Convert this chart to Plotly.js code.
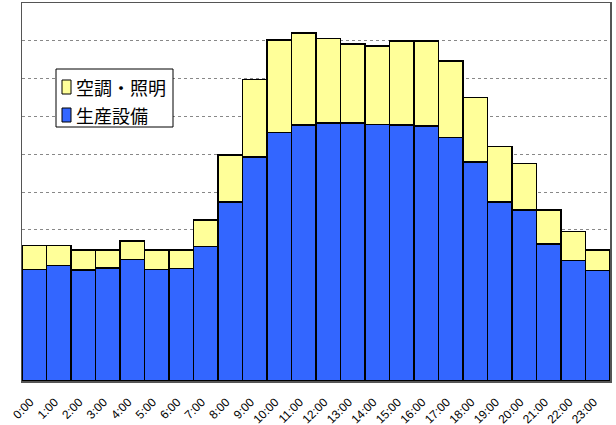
<!DOCTYPE html>
<html>
<head>
<meta charset="utf-8">
<script src="https://cdn.plot.ly/plotly-3.0.1.min.js"></script>
<style>html,body{margin:0;padding:0;background:#fff;}#chart{width:616px;height:425px;}</style>
</head>
<body>
<div id="chart"></div>
<script>
const hours = ["0:00","1:00","2:00","3:00","4:00","5:00","6:00","7:00","8:00","9:00","10:00","11:00",
               "12:00","13:00","14:00","15:00","16:00","17:00","18:00","19:00","20:00","21:00","22:00","23:00"];
const production = [2.95,3.05,2.94,2.99,3.22,2.95,2.97,3.56,4.74,5.93,6.58,6.77,
                    6.83,6.83,6.79,6.77,6.75,6.44,5.79,4.73,4.52,3.62,3.19,2.93];
const hvacLighting = [0.63,0.53,0.52,0.48,0.48,0.51,0.50,0.70,1.24,2.05,2.44,2.44,
                      2.23,2.08,2.07,2.22,2.24,2.03,1.71,1.48,1.23,0.91,0.76,0.53];
const seriesNames = ["生産設備","空調・照明"];
const seriesColors = ["#3366FF","#FFFF99"];

const traces = [
  {type:"bar", name:seriesNames[0], x:hours, y:production, showlegend:false,
   marker:{color:seriesColors[0], line:{color:"#000000", width:1.5}}},
  {type:"bar", name:seriesNames[1], x:hours, y:hvacLighting, showlegend:false,
   marker:{color:seriesColors[1], line:{color:"#000000", width:1.5}}}
];

// custom legend box (paper coordinates; plot area 588x378 px)
const W = 588, H = 378;
const px = v => (v - 22) / W;
const py = v => (381 - v) / H;
const shapes = [
  {type:"rect", xref:"paper", yref:"paper", x0:px(56), x1:px(173), y0:py(127), y1:py(69),
   line:{color:"#000", width:1}, fillcolor:"#fff", layer:"above"},
  {type:"rect", xref:"paper", yref:"paper", x0:px(62), x1:px(71), y0:py(94), y1:py(80),
   line:{color:"#000", width:1}, fillcolor:seriesColors[1], layer:"above"},
  {type:"rect", xref:"paper", yref:"paper", x0:px(62), x1:px(71), y0:py(122), y1:py(108),
   line:{color:"#000", width:1}, fillcolor:seriesColors[0], layer:"above"}
];
const annotations = [
  {xref:"paper", yref:"paper", x:px(74), y:py(87), xanchor:"left", yanchor:"middle", showarrow:false,
   text:seriesNames[1], font:{size:18, family:"Noto Sans CJK JP, sans-serif", color:"#000"}},
  {xref:"paper", yref:"paper", x:px(74), y:py(115), xanchor:"left", yanchor:"middle", showarrow:false,
   text:seriesNames[0], font:{size:18, family:"Noto Sans CJK JP, sans-serif", color:"#000"}}
];

const layout = {
  width:616, height:425,
  margin:{l:22, r:6, t:3, b:44},
  barmode:"stack", bargap:0,
  paper_bgcolor:"#ffffff", plot_bgcolor:"#ffffff",
  font:{family:"Liberation Sans, Arial, sans-serif", color:"#000"},
  xaxis:{type:"category", tickangle:-45, tickfont:{size:12, family:"Liberation Sans, Arial, sans-serif"},
         ticklabelstandoff:8, ticklabelshift:-4,
         showline:true, linecolor:"#555", linewidth:1.5, mirror:true, ticks:"", showgrid:false},
  yaxis:{range:[0,10], dtick:1, showticklabels:false, ticks:"", showgrid:true,
         gridcolor:"#888", griddash:"dot", gridwidth:1, zeroline:false,
         showline:true, linecolor:"#555", linewidth:1.5, mirror:true},
  shapes:shapes,
  annotations:annotations,
  showlegend:false
};

Plotly.newPlot("chart", traces, layout, {displayModeBar:false, staticPlot:true});
</script>
</body>
</html>
